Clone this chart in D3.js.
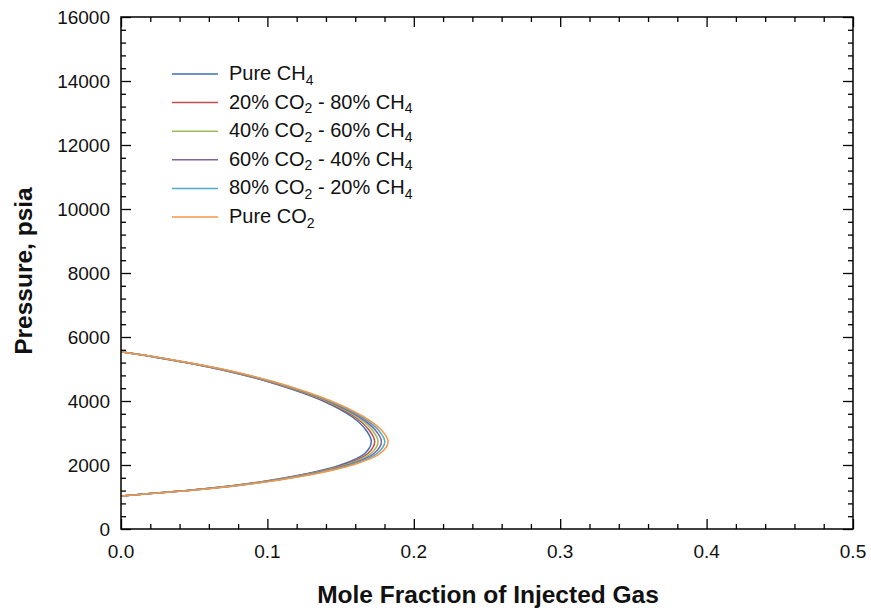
<!DOCTYPE html>
<html>
<head>
<meta charset="utf-8">
<script src="https://cdn.jsdelivr.net/npm/d3@7/dist/d3.min.js"></script>
<style>
  html, body { margin: 0; padding: 0; background: #fff; }
  svg { display: block; font-family: Arial, "Liberation Sans", sans-serif; }
</style>
</head>
<body>
<svg id="chart" width="871" height="611"></svg>
<script>
// ---- Data ----
const seriesNames = [
  ["Pure CH", "4", "", ""],
  ["20% CO", "2", " - 80% CH", "4"],
  ["40% CO", "2", " - 60% CH", "4"],
  ["60% CO", "2", " - 40% CH", "4"],
  ["80% CO", "2", " - 20% CH", "4"],
  ["Pure CO", "2", "", ""]
];
const seriesColors = ["#3F6FB6", "#C0504D", "#9BBB59", "#8064A2", "#4BACC6", "#F79646"];

// pressure (psia) of each sampled point, bottom branch -> top branch
const pressure = [1031, 1270, 1500, 1700, 2000, 2360, 2728, 3100, 3500, 4000, 4600, 5000, 5300, 5540];

// mole fraction of injected gas at each pressure
const pureCH4 = [0, 0.0600, 0.0990, 0.1240, 0.1500, 0.1665, 0.1710, 0.1672, 0.1580, 0.1380, 0.1005, 0.0660, 0.0320, 0];
const co2_20  = [0, 0.0606, 0.0999, 0.1252, 0.1516, 0.1686, 0.1733, 0.1693, 0.1596, 0.1391, 0.1013, 0.0666, 0.0324, 0];
const co2_40  = [0, 0.0612, 0.1008, 0.1264, 0.1532, 0.1707, 0.1756, 0.1714, 0.1612, 0.1402, 0.1021, 0.0672, 0.0328, 0];
const co2_60  = [0, 0.0618, 0.1017, 0.1276, 0.1548, 0.1728, 0.1779, 0.1735, 0.1628, 0.1413, 0.1029, 0.0678, 0.0332, 0];
const co2_80  = [0, 0.0624, 0.1026, 0.1288, 0.1564, 0.1749, 0.1802, 0.1756, 0.1644, 0.1424, 0.1037, 0.0684, 0.0336, 0];
const pureCO2 = [0, 0.0630, 0.1035, 0.1300, 0.1580, 0.1770, 0.1825, 0.1777, 0.1660, 0.1435, 0.1045, 0.0690, 0.0340, 0];
const seriesValues = [pureCH4, co2_20, co2_40, co2_60, co2_80, pureCO2];

const xTicks = [0, 0.1, 0.2, 0.3, 0.4, 0.5];
const xTickLabels = ["0.0", "0.1", "0.2", "0.3", "0.4", "0.5"];
const yTicks = [0, 2000, 4000, 6000, 8000, 10000, 12000, 14000, 16000];
const xMinor = [0.02, 0.04, 0.06, 0.08, 0.12, 0.14, 0.16, 0.18, 0.22, 0.24, 0.26, 0.28, 0.32, 0.34, 0.36, 0.38, 0.42, 0.44, 0.46, 0.48];
const yMinor = [400, 800, 1200, 1600, 2400, 2800, 3200, 3600, 4400, 4800, 5200, 5600, 6400, 6800, 7200, 7600,
  8400, 8800, 9200, 9600, 10400, 10800, 11200, 11600, 12400, 12800, 13200, 13600, 14400, 14800, 15200, 15600];

const xTitle = "Mole Fraction of Injected Gas";
const yTitle = "Pressure, psia";

// ---- Layout ----
const L = 121, R = 853, T = 17, B = 529;
const svg = d3.select("#chart");
const x = d3.scaleLinear().domain([0, 0.5]).range([L, R]);
const y = d3.scaleLinear().domain([0, 16000]).range([B, T]);

const clip = svg.append("defs").append("clipPath").attr("id", "plotclip");
clip.append("rect").attr("x", L).attr("y", T).attr("width", R - L).attr("height", B - T);

// curves
const line = d3.line()
  .x(d => x(d[0]))
  .y(d => y(d[1]))
  .curve(d3.curveCatmullRom.alpha(0.5));

const gCurves = svg.append("g").attr("clip-path", "url(#plotclip)");
seriesValues.forEach((vals, i) => {
  const pts = vals.map((v, j) => [v, pressure[j]]);
  gCurves.append("path")
    .attr("d", line(pts))
    .attr("fill", "none")
    .attr("stroke", seriesColors[i])
    .attr("stroke-width", 1.5);
});

// axes with inward ticks on all sides
const fmtNone = () => "";
function addAxis(axisFn, scale, transform, ticks, size) {
  const g = svg.append("g").attr("transform", transform)
    .call(axisFn(scale).tickValues(ticks).tickSizeInner(size).tickSizeOuter(0).tickFormat(fmtNone));
  g.select(".domain").remove();
  g.selectAll("line").attr("stroke", "#000").attr("stroke-width", 1.3);
  return g;
}
addAxis(d3.axisTop, x, `translate(0,${B})`, xTicks, 10);
addAxis(d3.axisTop, x, `translate(0,${B})`, xMinor, 5);
addAxis(d3.axisBottom, x, `translate(0,${T})`, xTicks, 10);
addAxis(d3.axisBottom, x, `translate(0,${T})`, xMinor, 5);
addAxis(d3.axisRight, y, `translate(${L},0)`, yTicks, 10);
addAxis(d3.axisRight, y, `translate(${L},0)`, yMinor, 5);
addAxis(d3.axisLeft, y, `translate(${R},0)`, yTicks, 10);
addAxis(d3.axisLeft, y, `translate(${R},0)`, yMinor, 5);

// frame
svg.append("rect").attr("x", L).attr("y", T).attr("width", R - L).attr("height", B - T)
  .attr("fill", "none").attr("stroke", "#000").attr("stroke-width", 1.5);

// tick labels
svg.append("g").selectAll("text").data(xTicks).join("text")
  .attr("x", d => x(d)).attr("y", B + 29)
  .attr("text-anchor", "middle").attr("font-size", 19).attr("fill", "#111")
  .text((d, i) => xTickLabels[i]);
svg.append("g").selectAll("text").data(yTicks).join("text")
  .attr("x", L - 11).attr("y", d => y(d) + 6.5)
  .attr("text-anchor", "end").attr("font-size", 19).attr("fill", "#111")
  .text(d => d);

// axis titles
svg.append("text").attr("x", (L + R) / 2 + 1).attr("y", 603)
  .attr("text-anchor", "middle").attr("font-size", 24.5).attr("font-weight", "bold").attr("fill", "#111")
  .text(xTitle);
svg.append("text").attr("transform", `translate(32,${(T + B) / 2 - 2}) rotate(-90)`)
  .attr("text-anchor", "middle").attr("font-size", 24.5).attr("font-weight", "bold").attr("fill", "#111")
  .text(yTitle);

// legend
const legend = svg.append("g");
seriesNames.forEach((parts, i) => {
  const ly = 74 + i * 28.6;
  legend.append("line").attr("x1", 172).attr("x2", 218).attr("y1", ly).attr("y2", ly)
    .attr("stroke", seriesColors[i]).attr("stroke-width", 1.5);
  const t = legend.append("text").attr("x", 229).attr("y", ly + 6)
    .attr("font-size", 20).attr("fill", "#111");
  t.append("tspan").text(parts[0]);
  t.append("tspan").attr("font-size", 14).attr("dy", 4.5).text(parts[1]);
  if (parts[2]) {
    t.append("tspan").attr("dy", -4.5).text(parts[2]);
    t.append("tspan").attr("font-size", 14).attr("dy", 4.5).text(parts[3]);
  }
});
</script>
</body>
</html>
